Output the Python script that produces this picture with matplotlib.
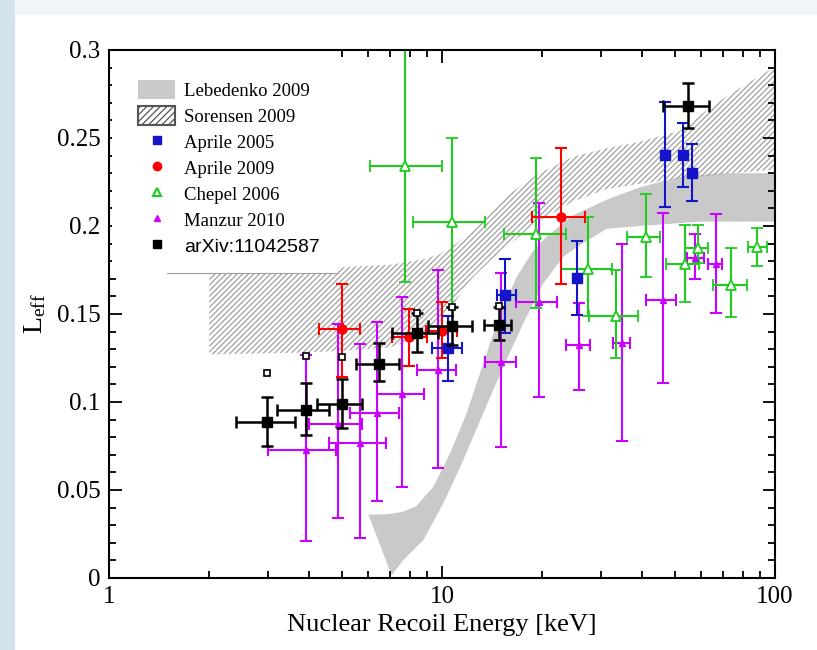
import numpy as np
import matplotlib
matplotlib.use("Agg")
import matplotlib.pyplot as plt
from matplotlib.patches import Patch, Rectangle
from matplotlib.lines import Line2D
from matplotlib.ticker import FixedLocator, FuncFormatter, MultipleLocator

# ---------------- data ----------------
# Lebedenko 2009 band (gray), upper/left edge then lower/right edge
leb_up_E = [6.01, 6.8, 7.6, 8.39, 9.42, 10.57, 11.86, 13.30, 14.94, 16.76, 18.80, 20.63, 24.74, 31.3, 39.3, 51.8, 68.4, 100]
leb_up_L = [0.0360, 0.0362, 0.0375, 0.0410, 0.0519, 0.0708, 0.0936, 0.122, 0.150, 0.171, 0.186, 0.194, 0.206, 0.215, 0.222, 0.228, 0.230, 0.230]
leb_lo_E = [6.01, 7.06, 7.65, 8.79, 10.09, 11.59, 13.30, 15.28, 17.55, 20.15, 23.14, 25.38, 31.3, 39.3, 59.5, 100]
leb_lo_L = [0.0360, 0.0015, 0.0102, 0.0216, 0.0424, 0.067, 0.0936, 0.120, 0.1447, 0.1674, 0.1826, 0.188, 0.1985, 0.200, 0.2025, 0.2025]

# Sorensen 2009 band (hatched)
sor_E = [2.0, 3.74, 4.94, 6.97, 8.76, 9.87, 11.05, 12.4, 13.9, 15.6, 19.6, 24.8, 31.2, 39.4, 51.8, 59.5, 73.3, 100]
sor_up = [0.176, 0.176, 0.1765, 0.178, 0.181, 0.184, 0.190, 0.198, 0.208, 0.217, 0.230, 0.2394, 0.2441, 0.248, 0.254, 0.263, 0.275, 0.2905]
sor_lo = [0.127, 0.128, 0.129, 0.131, 0.137, 0.146, 0.158, 0.171, 0.180, 0.188, 0.203, 0.214, 0.221, 0.224, 0.227, 0.228, 0.230, 0.232]

# Aprile 2005
a05_E = [10.4, 15.5, 25.4, 46.7, 53.0, 56.4]
a05_L = [0.1305, 0.1606, 0.1706, 0.2405, 0.2405, 0.2303]
a05_Elo = [9.3, 14.6, 25.4, 46.7, 53.0, 56.4]
a05_Ehi = [11.5, 16.7, 25.4, 46.7, 53.0, 56.4]
a05_Llo = [0.1121, 0.139, 0.1493, 0.2106, 0.222, 0.2144]
a05_Lhi = [0.1489, 0.1813, 0.1913, 0.2706, 0.2583, 0.2466]

# Aprile 2009
a09_E = [5.0, 7.98, 9.98, 22.8]
a09_L = [0.1415, 0.137, 0.1403, 0.2053]
a09_Elo = [4.27, 7.1, 8.98, 18.6]
a09_Ehi = [5.69, 9.0, 11.1, 26.9]
a09_Llo = [0.114, 0.1205, 0.1248, 0.167]
a09_Lhi = [0.167, 0.153, 0.157, 0.2441]

# Chepel 2006
che_E = [7.74, 10.7, 19.2, 27.5, 33.2, 41.0, 53.7, 58.6, 73.6, 88.1]
che_L = [0.234, 0.2025, 0.1953, 0.1754, 0.1489, 0.1939, 0.1784, 0.1873, 0.1665, 0.1883]
che_Elo = [6.08, 8.2, 15.3, 22.8, 27.7, 36.0, 47.2, 53.7, 65.3, 83.0]
che_Ehi = [10.0, 13.5, 23.6, 32.3, 38.9, 45.2, 59.3, 62.9, 82.3, 94.3]
che_Llo = [0.1683, 0.1542, 0.1532, 0.1489, 0.1248, 0.1708, 0.157, 0.1788, 0.1481, 0.1773]
che_Lhi = [0.31, 0.2502, 0.2388, 0.2053, 0.175, 0.2182, 0.2006, 0.2006, 0.1873, 0.1987]

# Manzur 2010
man_E = [3.90, 4.88, 5.69, 6.37, 7.59, 9.75, 15.0, 19.6, 25.7, 34.6, 46.0, 57.5, 66.4]
man_L = [0.0727, 0.0875, 0.0769, 0.0936, 0.1045, 0.1182, 0.1229, 0.1566, 0.1324, 0.1333, 0.158, 0.1816, 0.1784]
man_Elo = [3.01, 4.0, 4.58, 5.29, 6.37, 8.42, 13.5, 16.7, 23.6, 32.7, 40.9, 54.6, 62.9]
man_Ehi = [4.82, 5.77, 6.8, 7.44, 8.86, 11.0, 16.7, 22.2, 27.8, 36.7, 50.6, 61.4, 69.5]
man_Llo = [0.0212, 0.0339, 0.0226, 0.0439, 0.0515, 0.0623, 0.0746, 0.103, 0.1068, 0.078, 0.111, 0.1697, 0.1504]
man_Lhi = [0.1267, 0.1441, 0.1328, 0.1453, 0.1598, 0.175, 0.1731, 0.2133, 0.1561, 0.190, 0.2072, 0.1955, 0.2068]

# arXiv:11042587
arx_E = [2.98, 3.90, 5.0, 6.48, 8.41, 10.7, 14.8, 54.9]
arx_L = [0.0886, 0.0955, 0.0987, 0.1216, 0.139, 0.1432, 0.1438, 0.268]
arx_Elo = [2.41, 3.19, 4.2, 5.5, 7.1, 9.06, 13.4, 46.2]
arx_Ehi = [3.62, 4.58, 5.77, 7.44, 9.7, 12.3, 16.1, 63.4]
arx_Llo = [0.075, 0.0812, 0.085, 0.1121, 0.1286, 0.1324, 0.135, 0.2555]
arx_Lhi = [0.103, 0.1106, 0.113, 0.1333, 0.1507, 0.154, 0.154, 0.2814]
arx_sys = [0.1165, 0.126, 0.1254, np.nan, 0.1507, 0.154, 0.1545, np.nan]

legend_labels = ["Lebedenko 2009", "Sorensen 2009", "Aprile 2005", "Aprile 2009",
                 "Chepel 2006", "Manzur 2010", "arXiv:11042587"]
x_ticks = [1, 10, 100]
y_ticks = [0, 0.05, 0.1, 0.15, 0.2, 0.25, 0.3]

# ---------------- style ----------------
plt.rcParams['font.family'] = ['Liberation Serif', 'DejaVu Serif']
plt.rcParams['mathtext.fontset'] = 'custom'
plt.rcParams['mathtext.rm'] = 'Liberation Serif'
plt.rcParams['mathtext.it'] = 'Liberation Serif:italic'
plt.rcParams['hatch.linewidth'] = 0.9

C_BLUE = '#1414c8'
C_RED = '#ff0000'
C_GREEN = '#1ecc1e'
C_MAG = '#cc00ff'
C_GRAY = '#c9c9c9'
C_HATCH = '#a0a0a0'

fig = plt.figure(figsize=(8.17, 6.50), dpi=100)
fig.patch.set_facecolor('white')
# slide background strips
fig.add_artist(Rectangle((0, 1 - 15 / 650), 1, 15 / 650, transform=fig.transFigure,
                         facecolor='#f2f5f7', edgecolor='none', zorder=-5))
fig.add_artist(Rectangle((0, 0), 15 / 817, 1, transform=fig.transFigure,
                         facecolor='#d3e3ec', edgecolor='none', zorder=-5))

ax = fig.add_axes([109 / 817, 72 / 650, 666 / 817, 528 / 650])
ax.set_xscale('log')
ax.set_xlim(1, 100)
ax.set_ylim(0, 0.3)

# bands
ax.fill(np.concatenate([leb_up_E, leb_lo_E[::-1]]),
        np.concatenate([leb_up_L, leb_lo_L[::-1]]),
        facecolor=C_GRAY, edgecolor='none', zorder=1)
ax.fill_between(sor_E, sor_lo, sor_up, facecolor='none', edgecolor=C_HATCH,
                hatch='//////', linewidth=0, zorder=1.5)

# legend background box covering the band
ax.add_patch(Rectangle((0.005, 0.5777), 0.339, 0.42, transform=ax.transAxes,
                       facecolor='white', edgecolor='none', zorder=2))
ax.add_line(Line2D([0.087, 0.344], [0.5777, 0.5777], transform=ax.transAxes,
                   color='#a0a0a0', lw=0.8, zorder=2.1))


def errs(c, lo, hi):
    c = np.asarray(c, float)
    return np.vstack([c - np.asarray(lo, float), np.asarray(hi, float) - c])


ekw = dict(linestyle='none', capsize=4.5, capthick=1.5, elinewidth=1.5, zorder=4)

ax.errorbar(man_E, man_L, xerr=errs(man_E, man_Elo, man_Ehi), yerr=errs(man_L, man_Llo, man_Lhi),
            marker='^', ms=5, color=C_MAG, mec=C_MAG, mfc=C_MAG, **ekw)
ax.errorbar(che_E, che_L, xerr=errs(che_E, che_Elo, che_Ehi), yerr=errs(che_L, che_Llo, che_Lhi),
            marker='^', ms=6.5, color=C_GREEN, mec=C_GREEN, mfc='white', mew=1.3, **ekw)
ax.errorbar(a09_E, a09_L, xerr=errs(a09_E, a09_Elo, a09_Ehi), yerr=errs(a09_L, a09_Llo, a09_Lhi),
            marker='o', ms=6.5, color=C_RED, **ekw)
ax.errorbar(a05_E, a05_L, xerr=errs(a05_E, a05_Elo, a05_Ehi), yerr=errs(a05_L, a05_Llo, a05_Lhi),
            marker='s', ms=7, color=C_BLUE, **ekw)
ax.errorbar(arx_E, arx_L, xerr=errs(arx_E, arx_Elo, arx_Ehi), yerr=errs(arx_L, arx_Llo, arx_Lhi),
            marker='s', ms=7.5, color='black', linestyle='none', capsize=4.5, capthick=1.8,
            elinewidth=1.8, zorder=5)
ax.plot(arx_E, arx_sys, linestyle='none', marker='s', ms=4, mfc='white', mec='black',
        mew=1.2, zorder=5)

# axes styling
for s in ax.spines.values():
    s.set_linewidth(1.5)
    s.set_zorder(6)
ax.xaxis.set_major_locator(FixedLocator(x_ticks))
ax.xaxis.set_major_formatter(FuncFormatter(lambda v, p: f"{v:g}"))
ax.yaxis.set_major_locator(FixedLocator(y_ticks))
ax.yaxis.set_minor_locator(MultipleLocator(0.01))
ax.yaxis.set_major_formatter(FuncFormatter(lambda v, p: f"{v:g}"))
ax.tick_params(which='both', direction='in', top=True, right=True, width=1.3, colors='black')
ax.tick_params(which='major', length=9, labelsize=18, pad=6)
ax.tick_params(which='minor', length=5)
ax.tick_params(axis='x', which='minor', labelbottom=False)

ax.set_xlabel('Nuclear Recoil Energy [keV]', fontsize=19, labelpad=4)
ax.set_ylabel(r'$\mathrm{L}_{\mathrm{eff}}$', fontsize=20, labelpad=6)

# legend
handles = [
    Patch(facecolor=C_GRAY, edgecolor='none'),
    Patch(facecolor='white', edgecolor='#555555', hatch='/////', linewidth=1.5),
    Line2D([], [], linestyle='none', marker='s', ms=6, color=C_BLUE),
    Line2D([], [], linestyle='none', marker='o', ms=6, color=C_RED),
    Line2D([], [], linestyle='none', marker='^', ms=6, mfc='white', mec=C_GREEN, mew=1.5),
    Line2D([], [], linestyle='none', marker='^', ms=5, color=C_MAG),
    Line2D([], [], linestyle='none', marker='s', ms=6, color='black'),
]
leg = ax.legend(handles, legend_labels, loc='upper left', bbox_to_anchor=(0.032, 0.958),
                frameon=False, fontsize=13.5, handlelength=2.0, handleheight=1.2,
                handletextpad=0.45, labelspacing=0.33, borderaxespad=0.0)
leg.set_zorder(7)
leg.get_texts()[-1].set_fontfamily('Liberation Sans')
leg.get_texts()[-1].set_fontsize(14)

fig.savefig('out.png', dpi=100, facecolor=fig.get_facecolor())
